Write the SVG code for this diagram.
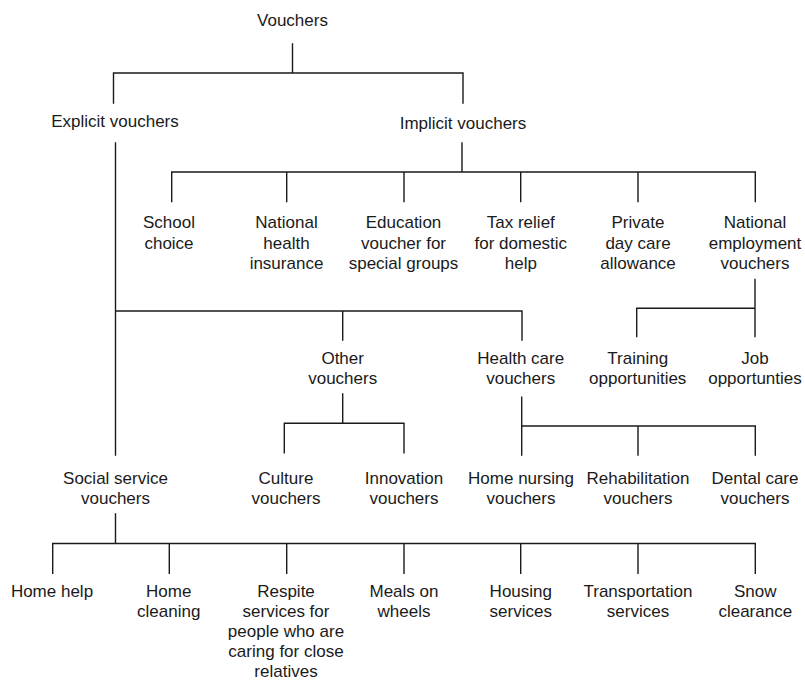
<svg xmlns="http://www.w3.org/2000/svg" width="805" height="680" viewBox="0 0 805 680">
  <style>
    .lbl { font-family: "Liberation Sans", Arial, Helvetica, sans-serif; font-size: 17px; fill: #1a1a1a; text-anchor: middle; }
    .conn { stroke: #1a1a1a; stroke-width: 1.4; fill: none; stroke-linecap: square; }
  </style>
  <rect width="805" height="680" fill="#ffffff"/>

  <!-- connectors of the tree -->
  <g id="connectors" class="conn">
    <!-- root -->
    <path d="M292.5 44 V73 M113.5 73 H463 M113.5 73 V103 M463 73 V103"/>
    <!-- implicit vouchers -->
    <path d="M462 143 V172 M171.7 172 H755.3 M171.7 172 V201.5 M286.7 172 V201.5 M404 172 V201.5 M520.7 172 V201.5 M638 172 V201.5 M755.3 172 V201.5"/>
    <!-- explicit vouchers trunk -->
    <path d="M115.5 143 V455 M115.5 311 H522 M342.7 311 V340 M522 311 V340"/>
    <!-- national employment vouchers -->
    <path d="M755 279.5 V336.5 M636.7 308.3 H755 M636.7 308.3 V336.5"/>
    <!-- other vouchers -->
    <path d="M342.7 394 V423.3 M284.3 423.3 H404 M284.3 423.3 V452.7 M404 423.3 V452.7"/>
    <!-- health care vouchers -->
    <path d="M521.7 397.3 V455 M521.7 426 H755.3 M638 426 V455 M755.3 426 V455"/>
    <!-- social service vouchers -->
    <path d="M115.5 514 V543.5 M52.7 543.5 H755.3 M52.7 543.5 V573.3 M169.3 543.5 V573.3 M286.7 543.5 V573.3 M404 543.5 V573.3 M520.7 543.5 V573.3 M638 543.5 V573.3 M755.3 543.5 V573.3"/>
  </g>

  <!-- level 0 / 1 -->
  <g id="vouchers"><text class="lbl" x="292.5" y="26">Vouchers</text></g>
  <g id="explicit"><text class="lbl" x="115" y="126.5">Explicit vouchers</text></g>
  <g id="implicit"><text class="lbl" x="463" y="129">Implicit vouchers</text></g>

  <!-- implicit voucher types -->
  <g id="school-choice"><text class="lbl" x="169" y="228"><tspan x="169">School</tspan><tspan x="169" dy="20.7">choice</tspan></text></g>
  <g id="national-health"><text class="lbl" x="286.5" y="228"><tspan x="286.5">National</tspan><tspan x="286.5" dy="20.7">health</tspan><tspan x="286.5" dy="20.7">insurance</tspan></text></g>
  <g id="education-voucher"><text class="lbl" x="403.5" y="228"><tspan x="403.5">Education</tspan><tspan x="403.5" dy="20.7">voucher for</tspan><tspan x="403.5" dy="20.7">special groups</tspan></text></g>
  <g id="tax-relief"><text class="lbl" x="520.8" y="228"><tspan x="520.8">Tax relief</tspan><tspan x="520.8" dy="20.7">for domestic</tspan><tspan x="520.8" dy="20.7">help</tspan></text></g>
  <g id="day-care"><text class="lbl" x="638" y="228"><tspan x="638">Private</tspan><tspan x="638" dy="20.7">day care</tspan><tspan x="638" dy="20.7">allowance</tspan></text></g>
  <g id="national-employment"><text class="lbl" x="755" y="228"><tspan x="755">National</tspan><tspan x="755" dy="20.7">employment</tspan><tspan x="755" dy="20.7">vouchers</tspan></text></g>

  <!-- second row -->
  <g id="other"><text class="lbl" x="342.7" y="363.5"><tspan x="342.7">Other</tspan><tspan x="342.7" dy="20.6">vouchers</tspan></text></g>
  <g id="health-care"><text class="lbl" x="520.7" y="363.5"><tspan x="520.7">Health care</tspan><tspan x="520.7" dy="20.6">vouchers</tspan></text></g>
  <g id="training"><text class="lbl" x="637.7" y="363.5"><tspan x="637.7">Training</tspan><tspan x="637.7" dy="20.6">opportunities</tspan></text></g>
  <g id="job"><text class="lbl" x="755" y="363.5"><tspan x="755">Job</tspan><tspan x="755" dy="20.6">opportunties</tspan></text></g>

  <!-- third row -->
  <g id="social-service"><text class="lbl" x="115.5" y="483.5"><tspan x="115.5">Social service</tspan><tspan x="115.5" dy="20.6">vouchers</tspan></text></g>
  <g id="culture"><text class="lbl" x="286" y="483.5"><tspan x="286">Culture</tspan><tspan x="286" dy="20.6">vouchers</tspan></text></g>
  <g id="innovation"><text class="lbl" x="404" y="483.5"><tspan x="404">Innovation</tspan><tspan x="404" dy="20.6">vouchers</tspan></text></g>
  <g id="home-nursing"><text class="lbl" x="521" y="483.5"><tspan x="521">Home nursing</tspan><tspan x="521" dy="20.6">vouchers</tspan></text></g>
  <g id="rehabilitation"><text class="lbl" x="638" y="483.5"><tspan x="638">Rehabilitation</tspan><tspan x="638" dy="20.6">vouchers</tspan></text></g>
  <g id="dental-care"><text class="lbl" x="755" y="483.5"><tspan x="755">Dental care</tspan><tspan x="755" dy="20.6">vouchers</tspan></text></g>

  <!-- social service types -->
  <g id="home-help"><text class="lbl" x="52" y="596.5">Home help</text></g>
  <g id="home-cleaning"><text class="lbl" x="168.7" y="596.5"><tspan x="168.7">Home</tspan><tspan x="168.7" dy="20.3">cleaning</tspan></text></g>
  <g id="respite"><text class="lbl" x="286" y="596.5"><tspan x="286">Respite</tspan><tspan x="286" dy="20.3">services for</tspan><tspan x="286" dy="20.3">people who are</tspan><tspan x="286" dy="20.3">caring for close</tspan><tspan x="286" dy="19.8">relatives</tspan></text></g>
  <g id="meals"><text class="lbl" x="404" y="596.5"><tspan x="404">Meals on</tspan><tspan x="404" dy="20.3">wheels</tspan></text></g>
  <g id="housing"><text class="lbl" x="520.8" y="596.5"><tspan x="520.8">Housing</tspan><tspan x="520.8" dy="20.3">services</tspan></text></g>
  <g id="transportation"><text class="lbl" x="638" y="596.5"><tspan x="638">Transportation</tspan><tspan x="638" dy="20.3">services</tspan></text></g>
  <g id="snow"><text class="lbl" x="755.3" y="596.5"><tspan x="755.3">Snow</tspan><tspan x="755.3" dy="20.3">clearance</tspan></text></g>
</svg>
